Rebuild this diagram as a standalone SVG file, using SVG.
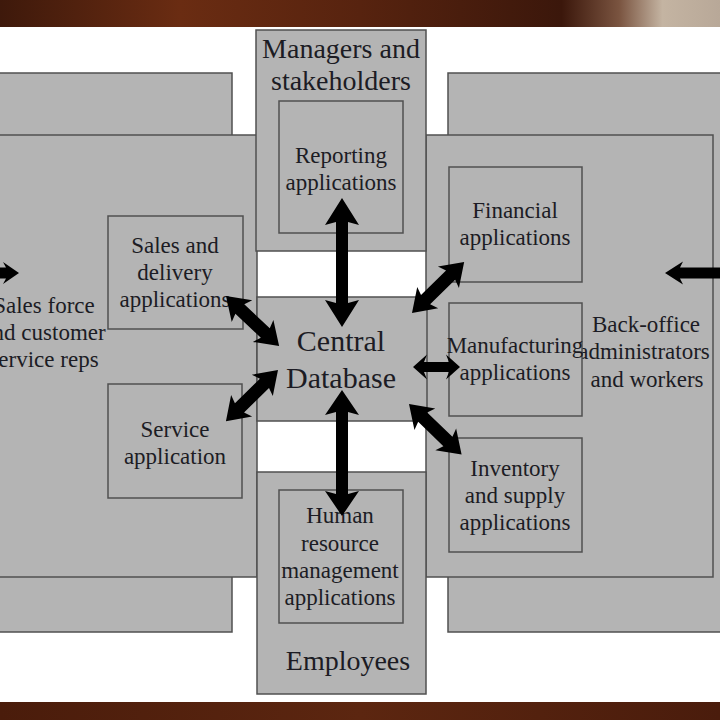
<svg xmlns="http://www.w3.org/2000/svg" width="720" height="720" viewBox="0 0 720 720">
<defs>
<linearGradient id="woodTop" x1="0" y1="0" x2="1" y2="0">
<stop offset="0" stop-color="#3e190b"/>
<stop offset="0.25" stop-color="#6a2c12"/>
<stop offset="0.5" stop-color="#57230f"/>
<stop offset="0.78" stop-color="#3b170b"/>
<stop offset="0.86" stop-color="#7a5440"/>
<stop offset="0.92" stop-color="#c4b4a2"/>
<stop offset="1" stop-color="#b8a898"/>
</linearGradient>
<linearGradient id="woodBot" x1="0" y1="0" x2="1" y2="0">
<stop offset="0" stop-color="#4a1c0b"/>
<stop offset="0.5" stop-color="#5c2610"/>
<stop offset="1" stop-color="#4a1c0c"/>
</linearGradient>
<style>
.box{fill:#b4b4b4;stroke:#505050;stroke-width:1.5}
.t{font-family:"Liberation Serif","Times New Roman",serif;fill:#1c1c24;text-anchor:middle}
.s23{font-size:23px}
.s28{font-size:28px}
.s30{font-size:30px}
.arr{fill:#000}
</style>
</defs>
<rect x="0" y="0" width="720" height="720" fill="#ffffff"/>
<rect x="0" y="0" width="720" height="27" fill="url(#woodTop)"/>
<rect x="0" y="702" width="720" height="18" fill="url(#woodBot)"/>

<g id="left-rear"><rect class="box" x="-10" y="73" width="242" height="559"/></g>
<g id="right-rear"><rect class="box" x="448" y="73" width="290" height="559"/></g>

<g id="sales-force">
<rect class="box" x="-10" y="135" width="267" height="442"/>
<text class="t s23" x="44" y="313">Sales force</text>
<text class="t s23" x="44" y="340">and customer</text>
<text class="t s23" x="44" y="367">service reps</text>
</g>
<g id="back-office">
<rect class="box" x="426" y="135" width="287" height="442"/>
<text class="t s23" x="646" y="332">Back-office</text>
<text class="t s23" x="644" y="359">administrators</text>
<text class="t s23" x="647" y="387">and workers</text>
</g>

<g id="managers">
<rect class="box" x="256" y="30" width="170" height="221"/>
<text class="t s28" x="341" y="58">Managers and</text>
<text class="t s28" x="341" y="90">stakeholders</text>
</g>
<g id="central-database">
<rect class="box" x="257" y="297" width="170" height="124"/>
<text class="t s30" x="341" y="351">Central</text>
<text class="t s30" x="341" y="388">Database</text>
</g>
<g id="employees">
<rect class="box" x="257" y="472" width="169" height="222"/>
<text class="t s28" x="348" y="670">Employees</text>
</g>

<g id="reporting">
<rect class="box" x="279" y="101" width="124" height="132"/>
<text class="t s23" x="341" y="163">Reporting</text>
<text class="t s23" x="341" y="190">applications</text>
</g>
<g id="hr">
<rect class="box" x="279" y="490" width="124" height="133"/>
<text class="t s23" x="340" y="523">Human</text>
<text class="t s23" x="340" y="551">resource</text>
<text class="t s23" x="340" y="578">management</text>
<text class="t s23" x="340" y="605">applications</text>
</g>
<g id="sales-delivery">
<rect class="box" x="108" y="216" width="135" height="113"/>
<text class="t s23" x="175" y="253">Sales and</text>
<text class="t s23" x="175" y="280">delivery</text>
<text class="t s23" x="175" y="307">applications</text>
</g>
<g id="service">
<rect class="box" x="108" y="384" width="134" height="114"/>
<text class="t s23" x="175" y="437">Service</text>
<text class="t s23" x="175" y="464">application</text>
</g>
<g id="financial">
<rect class="box" x="449" y="167" width="133" height="115"/>
<text class="t s23" x="515" y="218">Financial</text>
<text class="t s23" x="515" y="245">applications</text>
</g>
<g id="manufacturing">
<rect class="box" x="449" y="303" width="133" height="113"/>
<text class="t s23" x="515" y="353">Manufacturing</text>
<text class="t s23" x="515" y="380">applications</text>
</g>
<g id="inventory">
<rect class="box" x="449" y="438" width="133" height="114"/>
<text class="t s23" x="515" y="476">Inventory</text>
<text class="t s23" x="515" y="503">and supply</text>
<text class="t s23" x="515" y="530">applications</text>
</g>

<g id="connectors">
<polygon class="arr" transform="translate(342,198) rotate(90)" points="0,0 27,-17 24,-6 105,-6 102,-17 129,0 102,17 105,6 24,6 27,17"/>
<polygon class="arr" transform="translate(342,390) rotate(90)" points="0,0 25,-17 22,-6 104,-6 101,-17 126,0 101,17 104,6 22,6 25,17"/>
<polygon class="arr" transform="translate(226,296) rotate(43.3)" points="0,0 22,-15 19,-6.5 54,-6.5 51,-15 73,0 51,15 54,6.5 19,6.5 22,15"/>
<polygon class="arr" transform="translate(278,370) rotate(135.5)" points="0,0 22,-15 19,-6.5 54,-6.5 51,-15 73,0 51,15 54,6.5 19,6.5 22,15"/>
<polygon class="arr" transform="translate(412,313) rotate(-44.4)" points="0,0 22,-15 19,-6.5 54,-6.5 51,-15 73,0 51,15 54,6.5 19,6.5 22,15"/>
<polygon class="arr" transform="translate(409,404) rotate(43.9)" points="0,0 22,-15 19,-6.5 54,-6.5 51,-15 73,0 51,15 54,6.5 19,6.5 22,15"/>
<polygon class="arr" transform="translate(413,367)" points="0,0 14,-12.5 11,-5 36,-5 33,-12.5 47,0 33,12.5 36,5 11,5 14,12.5"/>
<polygon class="arr" points="-5,267.5 6,267.5 3,262 19,273 3,284 6,278.5 -5,278.5"/>
<polygon class="arr" points="665,273 683,261.5 680,267.5 730,267.5 730,278.5 680,278.5 683,284.5"/>
</g>
</svg>
